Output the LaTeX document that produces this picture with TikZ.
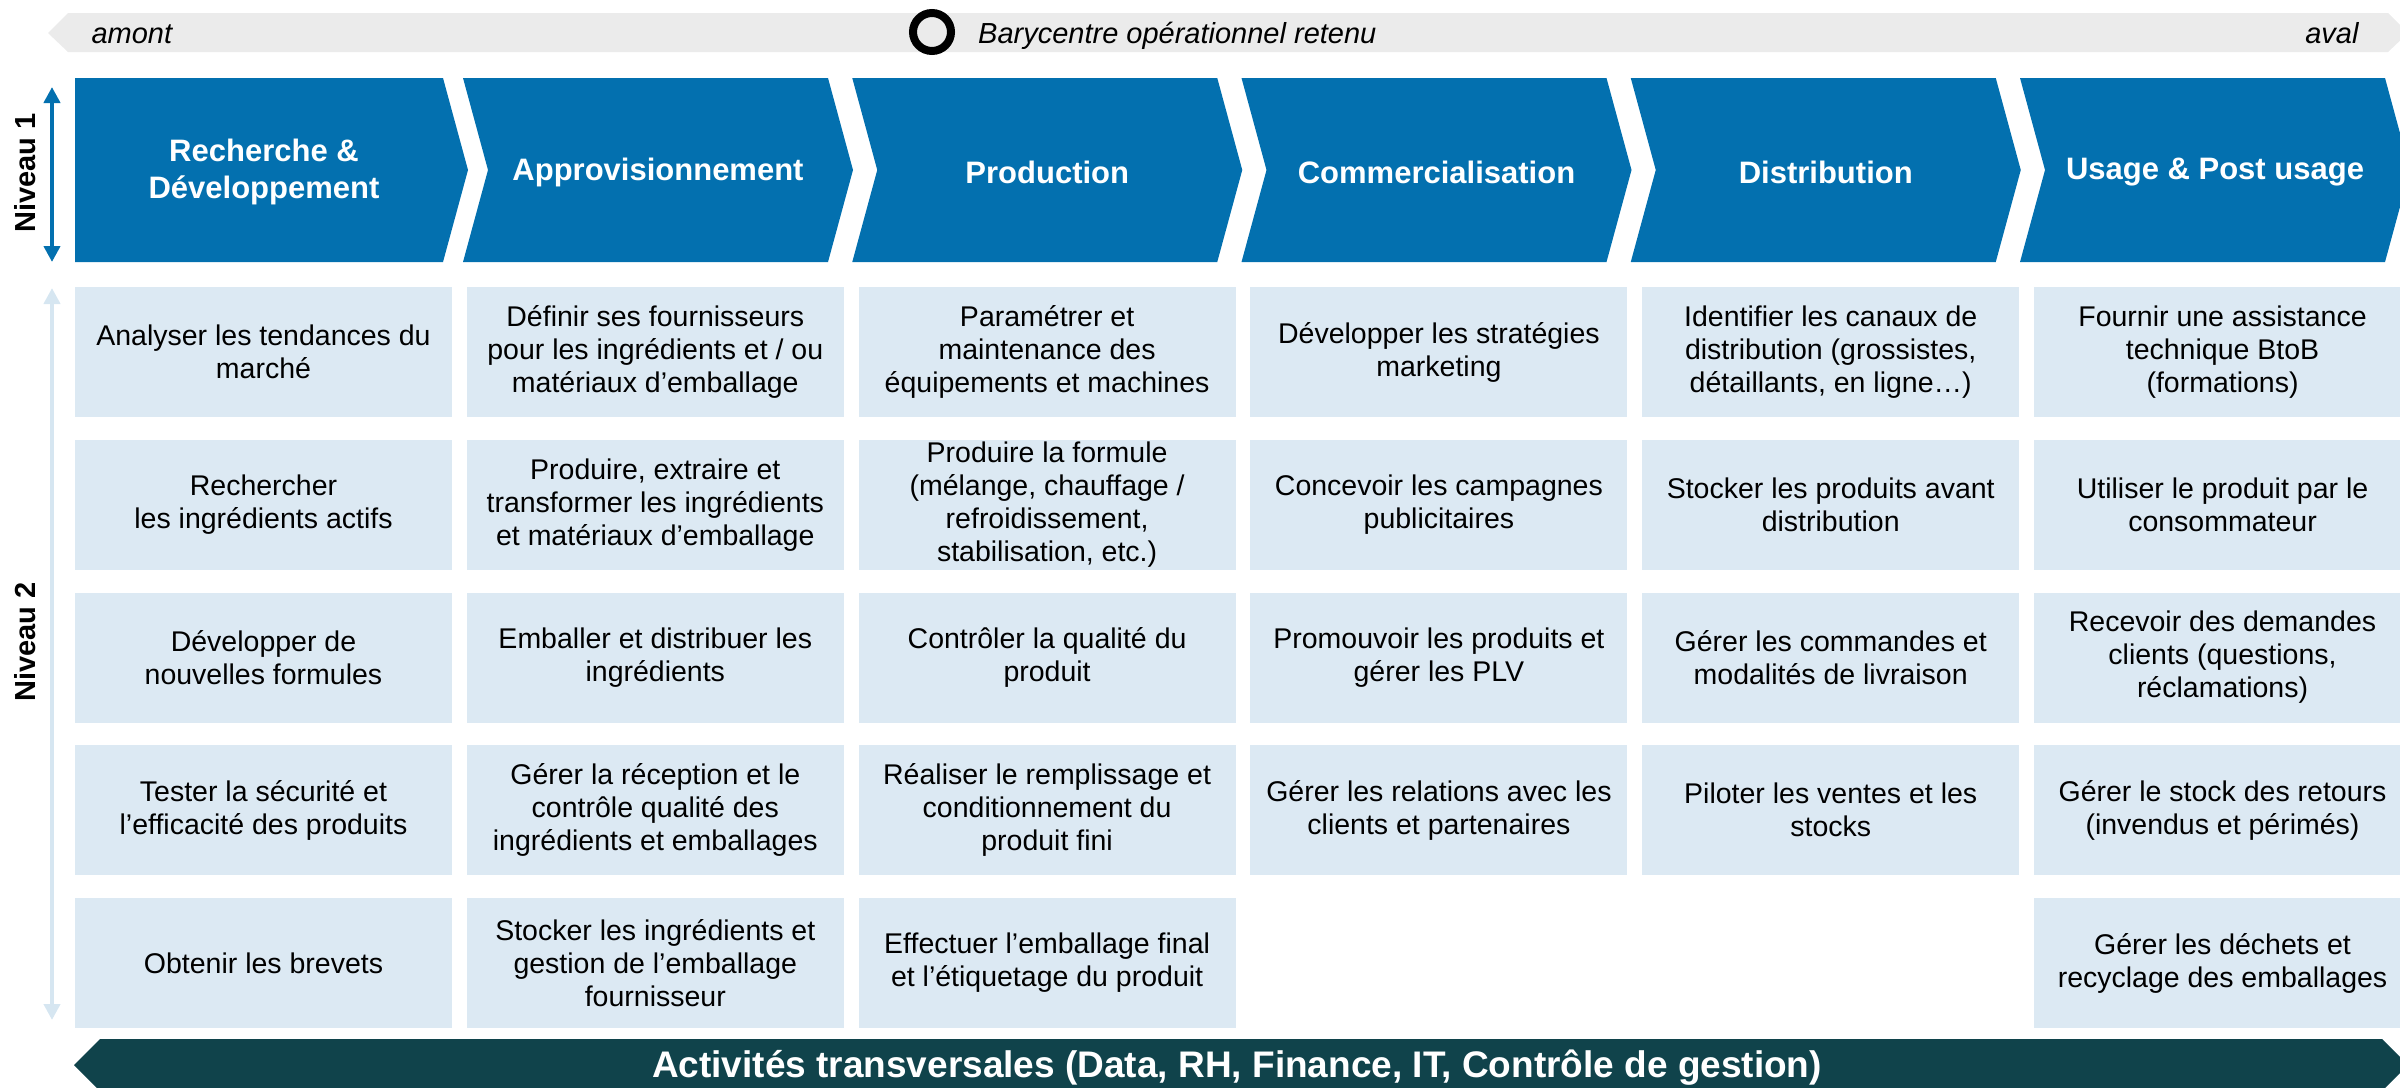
\documentclass[tikz,border=0pt]{standalone}
\usepackage{fontspec}
\setmainfont{Liberation Sans}
\usetikzlibrary{arrows.meta}
\definecolor{chevblue}{HTML}{0370AF}
\definecolor{cellblue}{HTML}{DCE9F3}
\definecolor{bargray}{HTML}{EBEBEB}
\definecolor{darkteal}{HTML}{10434B}
\definecolor{paleblue}{HTML}{D6E6F1}
\begin{document}
\begin{tikzpicture}[x=1pt,y=-1pt,
  cellbox/.style={fill=cellblue, minimum width=377pt, minimum height=130pt, inner sep=0pt,
    align=center, font=\fontsize{28.5}{33}\selectfont, text=black},
  chevtext/.style={text=white, align=center, font=\bfseries\fontsize{31}{37}\selectfont},
  levellabel/.style={rotate=90, font=\bfseries\fontsize{29}{33}\selectfont},
  toptext/.style={font=\itshape\fontsize{29}{33}\selectfont},
  levelarrow/.style={line width=4pt, {Triangle[width=16pt,length=16pt]}-{Triangle[width=16pt,length=16pt]}}
]
\useasboundingbox (0,0) rectangle (2400,1087);
\clip (0,0) rectangle (2400,1087);

% top grey arrow bar
\fill[bargray] (48,33) -- (68,13) -- (2388,13) -- (2408,33) -- (2388,52) -- (68,52) -- cycle;
\node[toptext, anchor=base west] (amont) at (88,43) {amont};
\node[toptext, anchor=base east] (aval) at (2362,43) {aval};
\draw[line width=8pt] (932,32) circle (19);
\node[toptext, anchor=base west, inner sep=0pt] (bary) at (978,43) {Barycentre opérationnel retenu};

% level 1 chevrons
\fill[chevblue] (75,78) -- (443,78) -- (468,170) -- (443,262) -- (75,262) -- cycle;
\foreach \L in {463,852.25,1241.5,1630.75,2020}{
  \fill[chevblue] (\L,78) -- (\L+365,78) -- (\L+390,170) -- (\L+365,262) -- (\L,262) -- (\L+25,170) -- cycle;
}
\node[chevtext] (h1) at (264,172) {Recherche \&\\Développement};
\node[chevtext] (h2) at (658,172) {Approvisionnement};
\node[chevtext] (h3) at (1047.25,172) {Production};
\node[chevtext] (h4) at (1436.5,172) {Commercialisation};
\node[chevtext] (h5) at (1825.75,172) {Distribution};
\node[chevtext] (h6) at (2215,172) {Usage \& Post usage};

% level arrows and labels
\coordinate (n1top) at (52,87);
\coordinate (n1bot) at (52,262);
\draw[levelarrow, chevblue] (n1top) -- (n1bot);
\coordinate (n2top) at (52,288);
\coordinate (n2bot) at (52,1020);
\draw[levelarrow, paleblue] (n2top) -- (n2bot);
\node[levellabel] (niv1) at (25,173) {Niveau 1};
\node[levellabel] (niv2) at (25,642) {Niveau 2};

% column 1
\node[cellbox] (a1) at (263.5,352) {Analyser les tendances du\\marché};
\node[cellbox] (a2) at (263.5,504.75) {Rechercher\\les ingrédients actifs};
\node[cellbox] (a3) at (263.5,657.5) {Développer de\\nouvelles formules};
\node[cellbox] (a4) at (263.5,810.25) {Tester la sécurité et\\l’efficacité des produits};
\node[cellbox] (a5) at (263.5,963) {Obtenir les brevets};
% column 2
\node[cellbox] (b1) at (655.3,352) {Définir ses fournisseurs\\pour les ingrédients et / ou\\matériaux d’emballage};
\node[cellbox] (b2) at (655.3,504.75) {Produire, extraire et\\transformer les ingrédients\\et matériaux d’emballage};
\node[cellbox] (b3) at (655.3,657.5) {Emballer et distribuer les\\ingrédients};
\node[cellbox] (b4) at (655.3,810.25) {Gérer la réception et le\\contrôle qualité des\\ingrédients et emballages};
\node[cellbox] (b5) at (655.3,963) {Stocker les ingrédients et\\gestion de l’emballage\\fournisseur};
% column 3
\node[cellbox] (c1) at (1047.1,352) {Paramétrer et\\maintenance des\\équipements et machines};
\node[cellbox] (c2) at (1047.1,504.75) {Produire la formule\\(mélange, chauffage /\\refroidissement,\\stabilisation, etc.)};
\node[cellbox] (c3) at (1047.1,657.5) {Contrôler la qualité du\\produit};
\node[cellbox] (c4) at (1047.1,810.25) {Réaliser le remplissage et\\conditionnement du\\produit fini};
\node[cellbox] (c5) at (1047.1,963) {Effectuer l’emballage final\\et l’étiquetage du produit};
% column 4
\node[cellbox] (d1) at (1438.9,352) {Développer les stratégies\\marketing};
\node[cellbox] (d2) at (1438.9,504.75) {Concevoir les campagnes\\publicitaires};
\node[cellbox] (d3) at (1438.9,657.5) {Promouvoir les produits et\\gérer les PLV};
\node[cellbox] (d4) at (1438.9,810.25) {Gérer les relations avec les\\clients et partenaires};
% column 5
\node[cellbox] (e1) at (1830.7,352) {Identifier les canaux de\\distribution (grossistes,\\détaillants, en ligne…)};
\node[cellbox] (e2) at (1830.7,504.75) {Stocker les produits avant\\distribution};
\node[cellbox] (e3) at (1830.7,657.5) {Gérer les commandes et\\modalités de livraison};
\node[cellbox] (e4) at (1830.7,810.25) {Piloter les ventes et les\\stocks};
% column 6
\node[cellbox] (f1) at (2222.5,352) {Fournir une assistance\\technique BtoB\\(formations)};
\node[cellbox] (f2) at (2222.5,504.75) {Utiliser le produit par le\\consommateur};
\node[cellbox] (f3) at (2222.5,657.5) {Recevoir des demandes\\clients (questions,\\réclamations)};
\node[cellbox] (f4) at (2222.5,810.25) {Gérer le stock des retours\\(invendus et périmés)};
\node[cellbox] (f5) at (2222.5,963) {Gérer les déchets et\\recyclage des emballages};

% bottom transversal bar
\fill[darkteal] (74,1065) -- (100,1039) -- (2382,1039) -- (2408,1065) -- (2382,1091) -- (100,1091) -- cycle;
\node[text=white, font=\bfseries\fontsize{37}{41}\selectfont, anchor=base] (transv) at (1237,1077)
  {Activités transversales (Data, RH, Finance, IT, Contrôle de gestion)};
\end{tikzpicture}
\end{document}
